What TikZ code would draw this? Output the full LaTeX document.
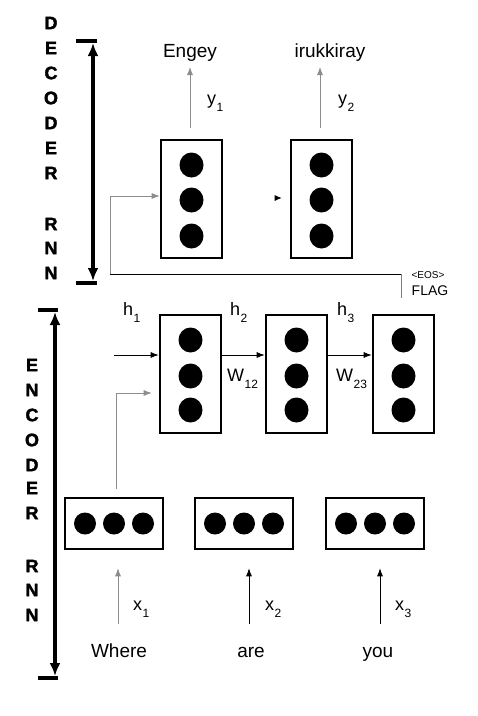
\documentclass[tikz,border=0pt]{standalone}
\usepackage{fontspec}
\setmainfont{Liberation Sans}
\newfontfamily\vertfont[FakeBold=2]{Liberation Sans}
\usetikzlibrary{arrows.meta,shapes.geometric}
\begin{document}
\begin{tikzpicture}[x=1pt,y=-1pt,
  cell/.style={draw,line width=2.6pt,minimum width=61pt,minimum height=118pt,inner sep=0pt},
  emb/.style={draw,line width=2.6pt,minimum width=98pt,minimum height=51pt,inner sep=0pt},
  dot/.style={fill,ellipse,minimum width=24pt,minimum height=25pt,inner sep=0pt},
  sdot/.style={fill,circle,minimum size=22pt,inner sep=0pt},
  word/.style={font=\fontsize{19}{21}\selectfont,inner sep=0pt,anchor=base},
  lbl/.style={font=\fontsize{18}{20}\selectfont,inner sep=0pt,anchor=base west},
  vlet/.style={font=\vertfont\fontsize{18}{20}\selectfont\bfseries,inner sep=0pt},
  bar/.style={line width=4pt},
  bigarrow/.style={line width=4pt,{Latex[length=13pt,width=11pt]}-{Latex[length=13pt,width=11pt]}},
  thin/.style={line width=0.8pt,-{Latex[length=8pt,width=6pt]}},
  pale/.style={thin,draw=black!45}
]
\useasboundingbox (0,0) rectangle (478,716);
\newcommand{\sub}[1]{\kern0.5pt\raisebox{-7pt}{\fontsize{12}{13}\selectfont #1}}

% ---------- decoder bracket ----------
\coordinate (dtop) at (93,43);
\coordinate (dbot) at (93,281);
\draw[bar] (76,41) -- (97,41);
\draw[bar] (76,283) -- (97,283);
\draw[bigarrow] (dtop) -- (dbot);
\foreach \ch/\yy in {D/23,E/48,C/73,O/98,D/123,E/148,R/173,R/224,N/248,N/273}
  \node[vlet] at (51,\yy) {\ch};

% ---------- decoder cells ----------
\node[cell] (d1) at (191.5,199) {};
\node[cell] (d2) at (321.5,199) {};
\foreach \c in {d1,d2}{
  \node[dot] at ([yshift=34pt]\c.center) {};
  \node[dot] at ([yshift=-1pt]\c.center) {};
  \node[dot] at ([yshift=-37pt]\c.center) {};
}
\node[word] (w1) at (190,57) {Engey};
\node[word] (w2) at (330,57) {irukkiray};
\draw[pale] ([xshift=-1.5pt,yshift=11pt]d1.north) -- ([xshift=-1.5pt]d1.north |- 0,67);
\draw[pale] ([xshift=-1.5pt,yshift=11pt]d2.north) -- ([xshift=-1.5pt]d2.north |- 0,67);
\node[lbl] (y1) at (207,104) {y\sub{1}};
\node[lbl] (y2) at (338,104) {y\sub{2}};

% feedback / EOS
\coordinate (eos) at (401,274);
\coordinate (fb) at (110,274);
\draw[line width=0.8pt] (eos) -- (fb);
\draw[pale] (fb) |- ([yshift=3pt]d1.west);
\draw[-{Latex[length=7pt,width=6pt]},line width=0.8pt] ([xshift=-14pt,yshift=1pt]d2.west) -- ([xshift=-8pt,yshift=1pt]d2.west);
\draw[line width=0.6pt,draw=black!50] (eos) -- (401,298);
\node[inner sep=0pt,font=\fontsize{10}{11}\selectfont] (eost) at (428,275) {<EOS>};
\node[inner sep=0pt,font=\fontsize{14}{15}\selectfont] (flag) at (430,291) {FLAG};

% ---------- encoder bracket ----------
\coordinate (etop) at (55,312);
\coordinate (ebot) at (55,676);
\draw[bar] (38,310) -- (58,310);
\draw[bar] (38,678) -- (58,678);
\draw[bigarrow] (etop) -- (ebot);
\foreach \ch/\yy in {E/365,N/390,C/415,O/440,D/465,E/488,R/513,R/566,N/590,N/615}
  \node[vlet] at (32,\yy) {\ch};

% ---------- encoder cells ----------
\node[cell] (e1) at (190.5,374) {};
\node[cell] (e2) at (296.5,374) {};
\node[cell] (e3) at (403.5,374) {};
\foreach \c in {e1,e2,e3}{
  \node[dot] at ([yshift=34pt]\c.center) {};
  \node[dot] at ([yshift=-2pt]\c.center) {};
  \node[dot] at ([yshift=-36pt]\c.center) {};
}
\coordinate (hin) at (114,355);
\draw[thin] (hin) -- (hin -| e1.west);
\draw[thin] ([yshift=19pt]e1.east) -- ([yshift=19pt]e2.west);
\draw[thin] ([yshift=19pt]e2.east) -- ([yshift=19pt]e3.west);
\node[lbl] (h1) at (123,315) {h\sub{1}};
\node[lbl] (h2) at (230,315) {h\sub{2}};
\node[lbl] (h3) at (337,315) {h\sub{3}};
\node[lbl] (w12) at (227,381) {W\sub{12}};
\node[lbl] (w23) at (336,381) {W\sub{23}};

% ---------- embeddings ----------
\node[emb] (m1) at (114,523.5) {};
\node[emb] (m2) at (244,523.5) {};
\node[emb] (m3) at (375,523.5) {};
\foreach \c in {m1,m2,m3}{
  \node[sdot] at ([xshift=-29pt]\c.center) {};
  \node[sdot] at (\c.center) {};
  \node[sdot] at ([xshift=29pt]\c.center) {};
}
\draw[pale] ([xshift=2pt,yshift=8pt]m1.north) |- ([xshift=-7pt,yshift=-19pt]e1.west);

\node[word] (i1) at (119,657) {Where};
\node[word] (i2) at (251,657) {are};
\node[word] (i3) at (378,657) {you};
\draw[pale] ([xshift=4pt,yshift=-74pt]m1.south) -- ([xshift=4pt,yshift=-18pt]m1.south);
\draw[thin] ([xshift=5pt,yshift=-74pt]m2.south) -- ([xshift=5pt,yshift=-18pt]m2.south);
\draw[thin] ([xshift=5pt,yshift=-74pt]m3.south) -- ([xshift=5pt,yshift=-18pt]m3.south);
\node[lbl] (x1) at (133,610) {x\sub{1}};
\node[lbl] (x2) at (265,610) {x\sub{2}};
\node[lbl] (x3) at (395,610) {x\sub{3}};
\end{tikzpicture}
\end{document}
